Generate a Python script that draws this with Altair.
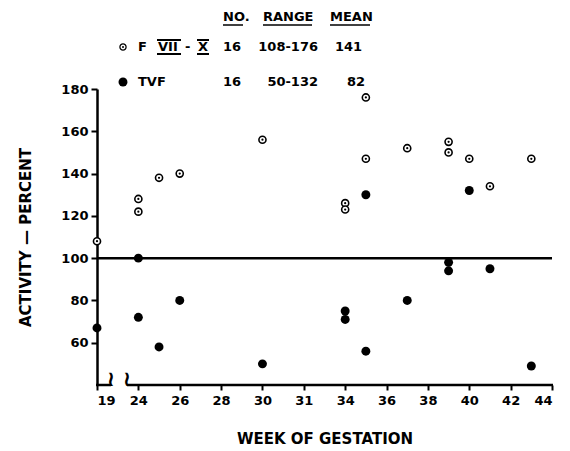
import json
import altair as alt
import pandas as pd

# ---------------- data ----------------
weeks_f7x = [19, 24, 24, 25, 26, 30, 34, 34, 35, 35, 37, 39, 39, 40, 41, 43]
activity_f7x = [108, 128, 122, 138, 140, 156, 126, 123, 176, 147, 152, 155, 150, 147, 134, 147]
weeks_tvf = [19, 24, 24, 25, 26, 30, 34, 34, 35, 35, 37, 39, 39, 40, 41, 43]
activity_tvf = [67, 100, 72, 58, 80, 50, 75, 71, 130, 56, 80, 98, 94, 132, 95, 49]

x_tick_labels = ["19", "24", "26", "28", "30", "31", "34", "36", "38", "40", "42", "44"]
y_tick_values = [60, 80, 100, 120, 140, 160, 180]
reference_level = [100]

legend_header = ["NO.", "RANGE", "MEAN"]
legend_f_name = ["F", "VII", "-", "X"]
legend_tvf_name = ["TVF"]
legend_no = ["16", "16"]
legend_range = ["108-176", "50-132"]
legend_mean = ["141", "82"]
break_glyph = ["\u2240"]

# ---------------- layout ----------------
W, H = 455, 296
FONT = "DejaVu Sans"
POS = "datum.week == 19 ? 0 : 1 + (datum.week - 24) / 2"

df_f = pd.DataFrame({"week": weeks_f7x, "activity": activity_f7x})
df_t = pd.DataFrame({"week": weeks_tvf, "activity": activity_tvf})

xenc = alt.X(
    "pos:Q",
    scale=alt.Scale(domain=[0, 11], nice=False, zero=False),
    axis=alt.Axis(
        values=list(range(len(x_tick_labels))),
        labelExpr=json.dumps(x_tick_labels) + "[datum.value]",
        domain=False, grid=False,
        tickSize=5, tickWidth=2, tickColor="black",
        labelFont=FONT, labelFontWeight="bold", labelFontSize=13, labelColor="black",
        labelPadding=4,
        title="WEEK OF GESTATION", titleFont=FONT, titleFontWeight="bold",
        titleFontSize=15, titleColor="black", titlePadding=24,
    ),
)
yenc = alt.Y(
    "activity:Q",
    scale=alt.Scale(domain=[40, 180], nice=False, zero=False),
    axis=alt.Axis(
        values=y_tick_values, grid=False,
        domainColor="black", domainWidth=2.5,
        tickSize=6, tickWidth=2, tickColor="black",
        labelFont=FONT, labelFontWeight="bold", labelFontSize=13, labelColor="black",
        labelPadding=3,
        title="ACTIVITY \u2014 PERCENT", titleFont=FONT, titleFontWeight="bold",
        titleFontSize=15, titleColor="black", titlePadding=27,
    ),
)

open_ring = alt.Chart(df_f).transform_calculate(pos=POS).mark_point(
    shape="circle", filled=False, fill="white", fillOpacity=1,
    stroke="black", strokeWidth=1.6, size=50, opacity=1,
).encode(x=xenc, y=yenc)
open_dot = alt.Chart(df_f).transform_calculate(pos=POS).mark_circle(
    size=5, color="black", opacity=1
).encode(x="pos:Q", y="activity:Q")
filled = alt.Chart(df_t).transform_calculate(pos=POS).mark_circle(
    size=80, color="black", opacity=1
).encode(x="pos:Q", y="activity:Q")

ref = alt.Chart(pd.DataFrame({"activity": reference_level})).mark_rule(
    color="black", strokeWidth=2.5
).encode(y="activity:Q")


def hrule(x1, x2, y, w=2.5):
    return alt.Chart(pd.DataFrame({"a": [0]})).mark_rule(color="black", strokeWidth=w).encode(
        x=alt.value(x1), x2=alt.value(x2), y=alt.value(y)
    )


# broken x-axis baseline
axis_left = hrule(-1, 14, H)
axis_right = hrule(30, W + 1, H)


def txt(s, x, y, align="left", size=13, weight="bold"):
    return alt.Chart(pd.DataFrame({"t": [s]})).mark_text(
        font=FONT, fontWeight=weight, fontSize=size, color="black",
        align=align, baseline="middle",
    ).encode(text="t:N", x=alt.value(x), y=alt.value(y))


breaks = [
    txt(break_glyph[0], 14, H - 5, align="center", size=21, weight="bold"),
    txt(break_glyph[0], 30, H - 5, align="center", size=21, weight="bold"),
]

# legend table (pixel offsets relative to plot origin)
y_head, y_r1, y_r2 = -72, -42, -7
legend = [
    txt(legend_header[0], 126, y_head),
    txt(legend_header[1], 166, y_head),
    txt(legend_header[2], 233, y_head),
    hrule(126, 146, y_head + 8, 1.5),
    hrule(166, 215, y_head + 8, 1.5),
    hrule(233, 273, y_head + 8, 1.5),
    # row 1
    alt.Chart(pd.DataFrame({"a": [0]})).mark_point(
        shape="circle", filled=False, stroke="black", strokeWidth=1.3, size=38, opacity=1
    ).encode(x=alt.value(26), y=alt.value(y_r1)),
    alt.Chart(pd.DataFrame({"a": [0]})).mark_circle(size=4, color="black", opacity=1).encode(
        x=alt.value(26), y=alt.value(y_r1)
    ),
    txt(legend_f_name[0], 41, y_r1),
    txt(legend_f_name[1], 61, y_r1),
    txt(legend_f_name[2], 88, y_r1),
    txt(legend_f_name[3], 101, y_r1),
    hrule(60, 84, y_r1 - 7, 2),
    hrule(60, 84, y_r1 + 7, 2),
    hrule(100, 112, y_r1 - 7, 2),
    hrule(100, 112, y_r1 + 7, 2),
    txt(legend_no[0], 126, y_r1),
    txt(legend_range[0], 221, y_r1, align="right"),
    txt(legend_mean[0], 238, y_r1),
    # row 2
    alt.Chart(pd.DataFrame({"a": [0]})).mark_circle(size=80, color="black", opacity=1).encode(
        x=alt.value(26), y=alt.value(y_r2)
    ),
    txt(legend_tvf_name[0], 41, y_r2),
    txt(legend_no[1], 126, y_r2),
    txt(legend_range[1], 221, y_r2, align="right"),
    txt(legend_mean[1], 250, y_r2),
]

chart = alt.layer(
    ref, open_ring, open_dot, filled, axis_left, axis_right, *breaks, *legend
).properties(
    width=W, height=H,
    padding={"left": 97, "top": 89, "right": 18, "bottom": 66},
    autosize=alt.AutoSizeParams(type="none"),
    background="white",
).configure_view(strokeWidth=0)

chart.save("out.html", embed_options={"renderer": "svg", "actions": False})
